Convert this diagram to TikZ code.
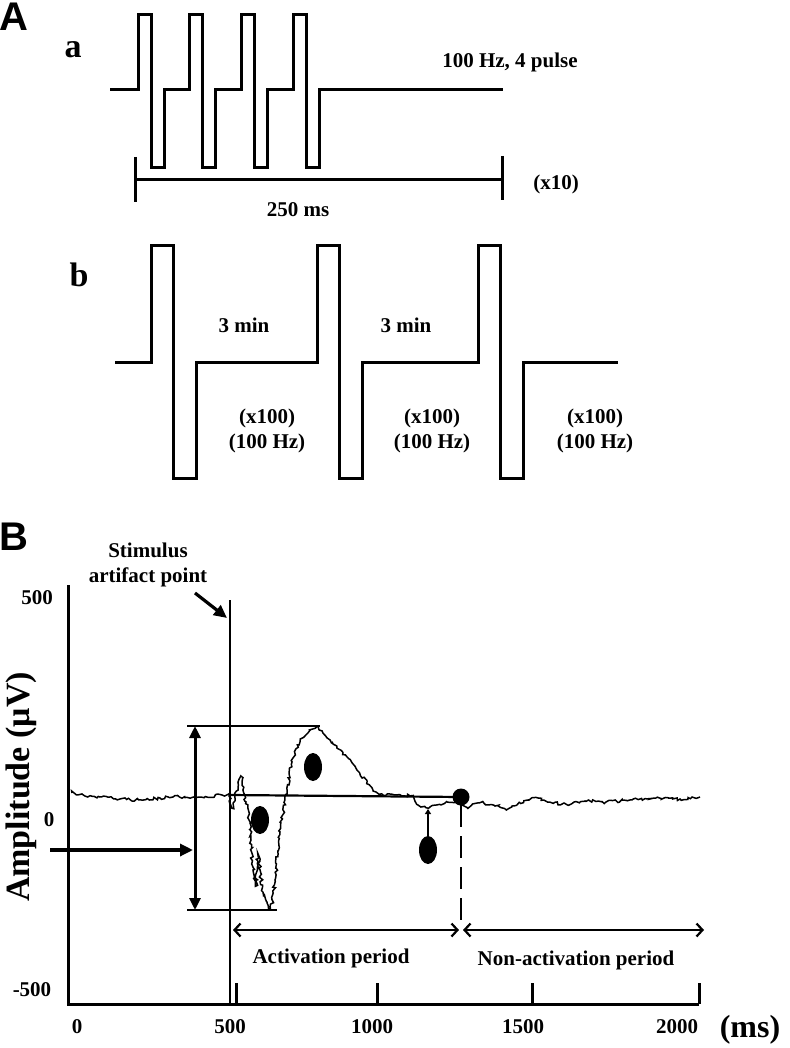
\documentclass[tikz,border=0pt]{standalone}
\usepackage{fontspec}
\setmainfont{Liberation Serif}
\setsansfont{Liberation Sans}
\usetikzlibrary{arrows.meta,decorations.pathmorphing}

\tikzset{
  lbl/.style={font=\fontsize{21}{25}\selectfont\bfseries, inner sep=0pt, align=center},
  panel/.style={font=\fontsize{40}{42}\selectfont\sffamily\bfseries, inner sep=0pt},
  sub/.style={font=\fontsize{34}{36}\selectfont\bfseries, inner sep=0pt},
  pulse/.style={line width=3pt, line join=miter},
  axis/.style={line width=3pt},
  thinline/.style={line width=1.5pt},
  refline/.style={line width=2.2pt},
  bigarrow/.style={line width=3.2pt, -{Triangle[length=13pt,width=12pt]}},
  dblarrow/.style={line width=3pt, {Triangle[length=12pt,width=11pt]}-{Triangle[length=12pt,width=11pt]}},
  period/.style={line width=2.2pt, {Straight Barb[length=6pt,width=13pt]}-{Straight Barb[length=6pt,width=13pt]}},
  trace/.style={line width=1.5pt, decorate, decoration={random steps, segment length=2.2pt, amplitude=1.5pt}},
  blob/.style={fill=black},
}

\begin{document}
\begin{tikzpicture}[x=1pt, y=-1pt]
  \useasboundingbox (0,0) rectangle (789,1048);
  \pgfmathsetseed{7}
  %.
  \node[panel] (pA) at (14,17) {A};
  \node[sub] (la) at (73,50) {a};
  \draw[pulse] (110,90)
    \foreach \i in {0,...,3}{ -- ({138+51.7*\i},90) -- ++(0,-75) -- ++(13,0) -- ++(0,153) -- ++(13,0) -- ++(0,-78) }
    -- (503,90);
  \draw[pulse] (135,157) -- (135,202) (135,180) -- (502,180) (502,156) -- (502,200);
  \node[lbl] (freq) at (510,62) {100 Hz, 4 pulse};
  \node[lbl] (rep) at (556,184) {(x10)};
  \node[lbl] (dur) at (298,210) {250 ms};
  %.
  \node[sub] (lb) at (79,275) {b};
  \draw[pulse] (115,362)
    \foreach \x in {151,317,478}{ -- (\x,362) -- ++(0,-116) -- ++(22,0) -- ++(0,232) -- ++(23,0) -- ++(0,-116) }
    -- (618,362);
  \node[lbl] (gap1) at (244,325) {3 min};
  \node[lbl] (gap2) at (406,325) {3 min};
  \foreach \x [count=\n] in {267,432,595}
    \node[lbl] (train\n) at (\x,431) {(x100)\\(100 Hz)};
  %.
  \node[panel] (pB) at (14,537) {B};
  \node[lbl] (stim) at (148,565) {Stimulus\\artifact point};
  \draw[axis] (68,585) -- (68,1004) -- (699,1004);
  \foreach \x in {236,377,532,699}
    \draw[axis] (\x,983) -- (\x,1004);
  \foreach \x/\t in {77/0,230/500,372/1000,523/1500,677/2000}
    \node[lbl] at (\x,1027) {\t};
  \node[font=\fontsize{32}{34}\selectfont\bfseries, inner sep=0pt] (unit) at (750,1030) {(ms)};
  \node[lbl] (ytop) at (37,598) {500};
  \node[lbl] (yzero) at (49,820) {0};
  \node[lbl] (ybot) at (32,990) {-500};
  \node[font=\fontsize{34}{36}\selectfont\bfseries, inner sep=0pt, rotate=90] (ylab) at (21,787) {Amplitude (μV)};
  %.
  \coordinate (s0) at (230,600);
  \coordinate (s1) at (230,1004);
  \draw[thinline] (s0) -- (s1);
  \coordinate (tail) at (195,593);
  \coordinate (tip) at (227,618);
  \draw[bigarrow] (tail) -- (tip);
  %.
  \coordinate (hi) at (195,726);
  \coordinate (lo) at (195,910);
  \draw[refline] (187,726) -- (320,726);
  \draw[refline] (187,910) -- (277,910);
  \draw[dblarrow] (hi) -- (lo);
  \coordinate (in) at (50,850);
  \coordinate (inend) at (193,850);
  \draw[bigarrow] (in) -- (inend);
  %.
  \draw[trace] plot[smooth, tension=0.5] coordinates {
    (72,793) (85,796) (100,797) (120,799) (143,800) (160,798) (173,797) (200,797) (222,795) (229,795)
    (232,808) (235,797) (238,788) (241,776) (243,790) (246,802) (249,820) (251,840) (253,870) (256,886)
    (258,855) (260,870) (263,892) (267,902) (271,908) (275,880) (280,832) (287,790) (293,758) (300,742)
    (308,733) (317,727) (323,733) (330,740) (337,748) (347,757) (357,770) (367,782) (373,790) (380,794)
    (395,795) (410,796) (415,801) (420,806) (428,808) (437,805) (447,802) (457,802) (467,807) (480,803)
    (495,806) (509,808) (532,798) (550,802) (566,804) (585,801) (606,802) (630,800) (656,798) (680,799) (700,797)};
  %.
  \coordinate (end) at (461,797);
  \draw[refline] (230,795) -- (end);
  \fill (end) circle (8.5);
  \draw[line width=2.8pt, dash pattern=on 22pt off 9pt] (461,805) -- (461,924);
  \coordinate (pa) at (233,930);
  \coordinate (pm) at (461,930);
  \coordinate (pz) at (704,930);
  \draw[period] (pa) -- ([xshift=-2pt]pm);
  \draw[period] ([xshift=2pt]pm) -- (pz);
  \node[lbl] (act) at (331,958) {Activation period};
  \node[lbl] (nonact) at (576,960) {Non-activation period};
  %.
  \fill[blob] (260,820) ellipse [x radius=9, y radius=14];
  \fill[blob] (313,767) ellipse [x radius=9, y radius=14];
  \fill[blob] (428,850) ellipse [x radius=9, y radius=14];
  \draw[line width=2.2pt, -{Triangle[length=5pt,width=6pt]}] (428,837) -- (428,809);
  %.
\end{tikzpicture}
\end{document}
